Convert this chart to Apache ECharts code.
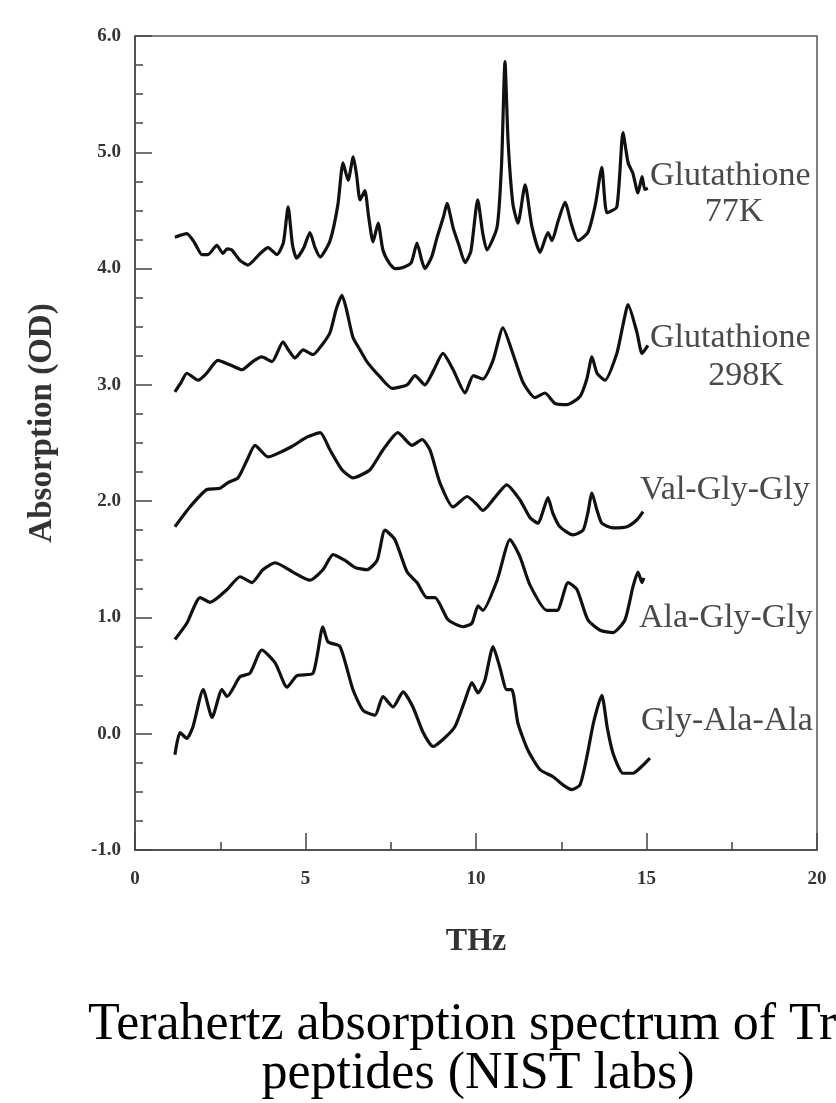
<!DOCTYPE html>
<html><head><meta charset="utf-8">
<script src="https://cdn.jsdelivr.net/npm/echarts@6/dist/echarts.min.js"></script>
<style>html,body{margin:0;padding:0;background:#fff}#c{width:836px;height:1103px}</style>
</head><body><div id="c"></div>
<script>
// ---- data (THz, absorption OD) ----
const glut77x = [1.17,1.52,1.75,1.96,2.14,2.40,2.58,2.70,2.84,3.08,3.31,3.67,3.90,4.16,4.35,4.49,4.62,4.74,4.95,5.13,5.28,5.43,5.72,5.95,6.10,6.25,6.40,6.50,6.60,6.74,6.85,6.98,7.13,7.27,7.45,7.62,7.86,8.10,8.27,8.40,8.50,8.70,8.86,9.05,9.15,9.33,9.50,9.68,9.85,10.05,10.20,10.32,10.62,10.75,10.85,10.94,11.08,11.23,11.44,11.64,11.88,12.11,12.23,12.40,12.61,12.80,12.99,13.28,13.50,13.69,13.84,14.13,14.31,14.46,14.60,14.75,14.87,14.95,15.04];
const glut77y = [4.27,4.30,4.22,4.12,4.12,4.20,4.13,4.17,4.16,4.07,4.03,4.13,4.18,4.12,4.22,4.53,4.20,4.09,4.18,4.31,4.18,4.10,4.24,4.55,4.91,4.76,4.96,4.80,4.59,4.67,4.45,4.23,4.39,4.16,4.05,4.00,4.01,4.05,4.22,4.08,4.00,4.10,4.27,4.45,4.56,4.35,4.20,4.05,4.15,4.59,4.30,4.16,4.36,4.90,5.78,5.10,4.56,4.39,4.72,4.36,4.14,4.31,4.24,4.40,4.57,4.38,4.24,4.31,4.55,4.87,4.48,4.53,5.17,4.91,4.82,4.65,4.79,4.68,4.69];

const glut298x = [1.17,1.35,1.52,1.85,2.10,2.43,2.80,3.14,3.45,3.72,4.02,4.34,4.50,4.69,4.93,5.22,5.50,5.72,5.90,6.07,6.20,6.39,6.60,6.80,7.18,7.54,7.98,8.21,8.50,8.75,9.03,9.33,9.68,9.92,10.20,10.50,10.79,11.08,11.38,11.73,12.02,12.32,12.67,13.05,13.25,13.40,13.55,13.78,14.13,14.30,14.46,14.72,14.87,15.04];
const glut298y = [2.94,3.02,3.10,3.04,3.10,3.21,3.17,3.13,3.20,3.24,3.20,3.37,3.30,3.23,3.30,3.26,3.35,3.45,3.65,3.77,3.65,3.41,3.30,3.20,3.07,2.97,3.00,3.08,3.00,3.12,3.27,3.13,2.93,3.08,3.05,3.21,3.49,3.27,3.02,2.89,2.93,2.84,2.83,2.90,3.05,3.24,3.10,3.04,3.27,3.50,3.69,3.45,3.27,3.34];

const vggx = [1.17,1.61,2.11,2.49,2.73,3.02,3.28,3.52,3.90,4.11,4.60,5.04,5.43,5.72,6.07,6.39,6.89,7.27,7.71,8.12,8.42,8.65,8.94,9.33,9.74,10.03,10.20,10.55,10.90,11.29,11.58,11.82,11.95,12.11,12.25,12.46,12.84,13.14,13.28,13.40,13.55,13.69,14.02,14.43,14.72,14.90];
const vggy = [1.78,1.95,2.10,2.11,2.16,2.20,2.35,2.48,2.38,2.40,2.47,2.55,2.59,2.44,2.27,2.20,2.27,2.44,2.59,2.48,2.53,2.44,2.16,1.95,2.04,1.97,1.92,2.03,2.14,2.01,1.86,1.81,1.90,2.03,1.90,1.78,1.71,1.75,1.90,2.07,1.92,1.81,1.77,1.78,1.84,1.91];

const aggx = [1.17,1.52,1.91,2.20,2.70,3.08,3.43,3.75,4.11,4.63,5.13,5.51,5.81,6.16,6.45,6.80,7.10,7.33,7.62,7.98,8.27,8.56,8.80,9.18,9.62,9.88,10.06,10.20,10.62,11.00,11.29,11.58,12.08,12.38,12.70,12.96,13.28,13.64,14.02,14.37,14.60,14.75,14.87,14.92];
const aggy = [0.81,0.95,1.17,1.13,1.24,1.35,1.30,1.41,1.47,1.39,1.32,1.41,1.54,1.49,1.43,1.41,1.49,1.75,1.67,1.39,1.30,1.17,1.17,0.98,0.92,0.95,1.10,1.06,1.32,1.67,1.52,1.28,1.06,1.06,1.30,1.24,0.98,0.89,0.87,0.98,1.26,1.39,1.30,1.34];

const gaax = [1.17,1.32,1.52,1.70,2.00,2.26,2.55,2.70,3.08,3.37,3.72,4.11,4.46,4.75,5.22,5.51,5.66,6.01,6.39,6.69,7.04,7.27,7.57,7.86,8.15,8.45,8.74,9.03,9.38,9.68,9.88,10.06,10.26,10.50,10.70,10.90,11.05,11.23,11.52,11.88,12.26,12.55,12.80,13.05,13.25,13.45,13.69,13.85,14.02,14.31,14.60,14.90,15.10];
const gaay = [-0.18,0.01,-0.04,0.06,0.38,0.14,0.38,0.32,0.49,0.52,0.72,0.61,0.40,0.50,0.52,0.92,0.79,0.75,0.38,0.20,0.16,0.32,0.23,0.36,0.23,0.01,-0.11,-0.05,0.06,0.29,0.44,0.35,0.46,0.75,0.57,0.38,0.38,0.09,-0.14,-0.31,-0.37,-0.44,-0.48,-0.44,-0.20,0.10,0.33,0.05,-0.17,-0.34,-0.34,-0.27,-0.21];

const seriesNames = ['Glutathione 77K','Glutathione 298K','Val-Gly-Gly','Ala-Gly-Gly','Gly-Ala-Ala'];
const seriesX = [glut77x, glut298x, vggx, aggx, gaax];
const seriesY = [glut77y, glut298y, vggy, aggy, gaay];
const xTitle = 'THz';
const yTitle = 'Absorption (OD)';
const titleLines = ['Terahertz absorption spectrum of Tri-', 'peptides (NIST labs)'];

const zip = (xs, ys) => xs.map((x, i) => [x, ys[i]]);
const serif = '"Liberation Serif", "Times New Roman", serif';
const axisCol = '#444';

const chart = echarts.init(document.getElementById('c'), null, {renderer: 'canvas'});
const labelStyle = (txt, x, y, align) => ({
  type: 'text', x: x, y: y, silent: true,
  style: {text: txt, fontFamily: serif, fontSize: 34, fill: '#4a4a4a', align: align || 'left', verticalAlign: 'middle'}
});

chart.setOption({
  animation: false,
  backgroundColor: '#fff',
  grid: {left: 135, top: 36, right: 19, bottom: 253, show: true, borderColor: '#555', borderWidth: 1.5, backgroundColor: 'transparent'},
  xAxis: {
    type: 'value', min: 0, max: 20, interval: 5,
    axisLine: {onZero: false, lineStyle: {color: axisCol, width: 1.5}},
    axisTick: {inside: true, length: 17, lineStyle: {color: axisCol, width: 1.5}},
    minorTick: {show: true, splitNumber: 2, length: 8, lineStyle: {color: axisCol, width: 1.5}},
    splitLine: {show: false},
    axisLabel: {fontFamily: serif, fontWeight: 'bold', fontSize: 19, color: '#333', margin: 20}
  },
  yAxis: {
    type: 'value', min: -1, max: 6, interval: 1,
    axisLine: {onZero: false, lineStyle: {color: axisCol, width: 1.5}},
    axisTick: {inside: true, length: 17, lineStyle: {color: axisCol, width: 1.5}},
    minorTick: {show: true, splitNumber: 4, length: 8, lineStyle: {color: axisCol, width: 1.5}},
    splitLine: {show: false},
    axisLabel: {fontFamily: serif, fontWeight: 'bold', fontSize: 19, color: '#333', margin: 14, formatter: v => v.toFixed(1)}
  },
  series: seriesNames.map((n, i) => ({
    name: n, type: 'line', data: zip(seriesX[i], seriesY[i]), showSymbol: false, smooth: 0.2,
    lineStyle: {color: '#111', width: 3.2}
  })),
  graphic: [
    labelStyle('Glutathione', 650, 176),
    labelStyle('77K', 734, 212, 'center'),
    labelStyle('Glutathione', 650, 338),
    labelStyle('298K', 746, 376, 'center'),
    labelStyle('Val-Gly-Gly', 640, 490),
    labelStyle('Ala-Gly-Gly', 639, 618),
    labelStyle('Gly-Ala-Ala', 641, 721),
    {type: 'text', x: 476, y: 942, silent: true,
     style: {text: xTitle, fontFamily: serif, fontWeight: 'bold', fontSize: 32, fill: '#333', align: 'center', verticalAlign: 'middle'}},
    {type: 'text', x: 42, y: 423, rotation: Math.PI / 2, silent: true,
     style: {text: yTitle, fontFamily: serif, fontWeight: 'bold', fontSize: 33, fill: '#333', align: 'center', verticalAlign: 'middle'}},
    {type: 'text', x: 478, y: 1025, silent: true,
     style: {text: titleLines[0], fontFamily: serif, fontSize: 52, fill: '#000', align: 'center', verticalAlign: 'middle'}},
    {type: 'text', x: 478, y: 1074, silent: true,
     style: {text: titleLines[1], fontFamily: serif, fontSize: 52, fill: '#000', align: 'center', verticalAlign: 'middle'}}
  ]
});
</script></body></html>
